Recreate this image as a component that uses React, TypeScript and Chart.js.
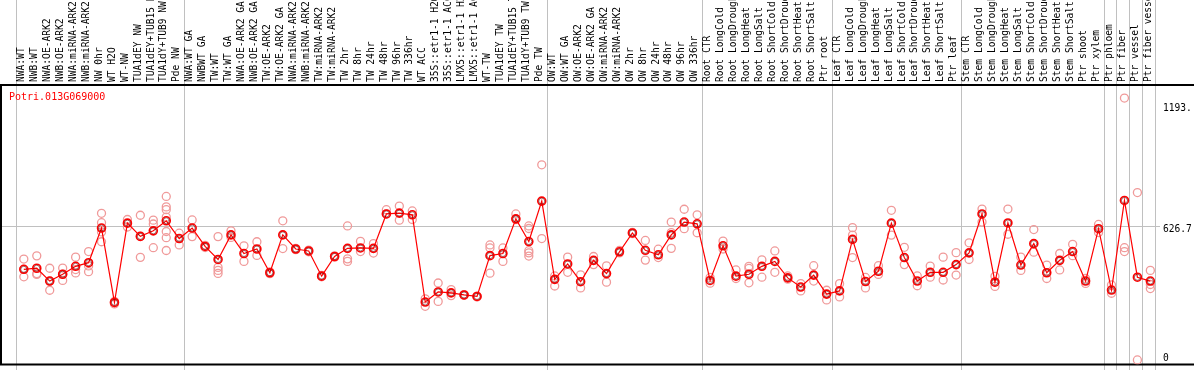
import React, { useEffect, useRef } from "react";
import { Chart, registerables } from "chart.js";

Chart.register(...registerables);

const geneTitle = "Potri.013G069000";

const categories: string[] = [
  "NWA:WT", "NWB:WT", "NWA:OE-ARK2", "NWB:OE-ARK2", "NWA:miRNA-ARK2", "NWB:miRNA-ARK2",
  "NW 0hr", "WT H2O", "WT-NW", "TUA1dEY NW", "TUA1dEY+TUB15 NW", "TUA1dY+TUB9 NW", "Pde NW",
  "NWA:WT GA", "NWBWT GA", "TW:WT", "TW:WT GA", "NWA:OE-ARK2 GA", "NWB:OE-ARK2 GA",
  "TW:OE-ARK2", "TW:OE-ARK2 GA", "NWA:miRNA-ARK2", "NWB:miRNA-ARK2", "TW:miRNA-ARK2",
  "TW:miRNA-ARK2", "TW 2hr", "TW 8hr", "TW 24hr", "TW 48hr", "TW 96hr", "TW 336hr",
  "WT ACC", "35S::etr1-1 H2O", "35S::etr1-1 ACC", "LMX5::etr1-1 H2O", "LMX5::etr1-1 ACC",
  "WT-TW", "TUA1dEY TW", "TUA1dEY+TUB15 TW", "TUA1dY+TUB9 TW", "Pde TW",
  "OW:WT", "OW:WT GA", "OW:OE-ARK2", "OW:OE-ARK2 GA", "OW:miRNA-ARK2", "OW:miRNA-ARK2",
  "OW 2hr", "OW 8hr", "OW 24hr", "OW 48hr", "OW 96hr", "OW 336hr",
  "Root CTR", "Root LongCold", "Root LongDrought", "Root LongHeat", "Root LongSalt",
  "Root ShortCold", "Root ShortDrought", "Root ShortHeat", "Root ShortSalt", "Ptr root",
  "Leaf CTR", "Leaf LongCold", "Leaf LongDrought", "Leaf LongHeat", "Leaf LongSalt",
  "Leaf ShortCold", "Leaf ShortDrought", "Leaf ShortHeat", "Leaf ShortSalt", "Ptr leaf",
  "Stem CTR", "Stem LongCold", "Stem LongDrought", "Stem LongHeat", "Stem LongSalt",
  "Stem ShortCold", "Stem ShortDrought", "Stem ShortHeat", "Stem ShortSalt",
  "Ptr shoot", "Ptr xylem", "Ptr phloem", "Ptr fiber", "Ptr vessel", "Ptr fiber vessel",
];

const meanValues: number[] = [
  424, 429, 369, 401, 438, 455, 617, 269, 640, 578, 604, 651, 568,
  617, 531, 470, 585, 498, 519, 408, 585, 519, 510, 392, 484,
  522, 524, 522, 683, 687, 679, 271, 318, 314, 304, 297,
  488, 498, 660, 554, 743,
  377, 449, 366, 466, 404, 506, 594, 513, 492, 585, 645, 637,
  372, 534, 392, 401, 438, 461, 384, 341, 397, 308,
  323, 564, 367, 415, 640, 479, 369, 410, 410, 446,
  501, 683, 364, 641, 444, 544, 408, 466, 507, 369,
  614, 327, 746, 387, 369,
];

const replicateValues: number[][] = [
  [472, 424, 389], [487, 404, 400], [429, 369, 326], [430, 401, 372], [481, 423, 407],
  [507, 440, 413], [686, 642, 599, 553], [274, 266, 262], [657, 622], [677, 578, 480],
  [654, 636, 525], [765, 716, 703, 668, 601, 572, 512], [593, 538], [655, 577], [536, 526],
  [577, 433, 419, 405], [604, 573], [534, 461], [553, 489], [412, 404], [651, 521],
  [522, 516], [514, 506], [395, 389], [487, 481], [627, 473, 461], [555, 507], [544, 500],
  [703, 683], [720, 654], [697, 657], [286, 251], [360, 274], [329, 301], [306, 302],
  [299, 295], [538, 524, 406], [524, 461], [683, 657], [627, 615, 511, 501, 486],
  [913, 568], [393, 346], [481, 410], [398, 337], [484, 446], [440, 364], [512, 501],
  [597, 591], [559, 467], [518, 479], [645, 596, 522], [705, 614], [679, 595],
  [386, 359], [556, 519], [421, 381], [438, 428, 361], [468, 387], [510, 410],
  [393, 378], [357, 323], [441, 369], [326, 281], [357, 295], [619, 584, 479],
  [386, 337], [441, 400], [700, 584], [527, 446], [393, 347], [439, 387], [481, 374],
  [502, 397], [548, 470], [706, 645], [391, 344], [706, 588], [481, 419], [610, 504],
  [444, 381], [498, 421], [541, 488], [381, 358], [634, 596], [351, 312],
  [1225, 525, 507], [783, 0], [419, 353, 334],
];

// category indices before which a group separator is drawn
const groupStarts: number[] = [0, 13, 41, 53, 63, 73, 84, 85, 86, 87, 88];

const yTickValues: number[] = [1193, 626.7, 0];
const yTickLabels: string[] = ["1193.", "626.7", "0"];
const gridValue = 626.7;

const MONO = "'DejaVu Sans Mono', 'Liberation Mono', monospace";

const decorPlugin = {
  id: "efpDecor",
  beforeDatasetsDraw(chart: any) {
    const ctx = chart.ctx as CanvasRenderingContext2D;
    const xs = chart.scales.x;
    const ys = chart.scales.y;
    const W = chart.width;
    const H = chart.height;
    const area = chart.chartArea;
    ctx.save();

    // grey separators
    ctx.strokeStyle = "#c0c0c0";
    ctx.lineWidth = 1;
    groupStarts.forEach((g) => {
      const px = Math.round(xs.getPixelForValue(g - 0.615)) + 0.5;
      ctx.beginPath();
      ctx.moveTo(px, 0);
      ctx.lineTo(px, H);
      ctx.stroke();
    });
    // horizontal grid line
    const gy = Math.round(ys.getPixelForValue(gridValue)) + 0.5;
    ctx.beginPath();
    ctx.moveTo(0, gy);
    ctx.lineTo(area.right, gy);
    ctx.stroke();

    // black frame
    ctx.strokeStyle = "#000000";
    ctx.lineWidth = 2;
    ctx.beginPath();
    ctx.moveTo(0, area.top);
    ctx.lineTo(W, area.top);
    ctx.moveTo(0, area.bottom);
    ctx.lineTo(W, area.bottom);
    ctx.moveTo(1, area.top);
    ctx.lineTo(1, area.bottom);
    ctx.stroke();

    // category labels (rotated)
    ctx.fillStyle = "#000000";
    ctx.font = `9.6px ${MONO}`;
    ctx.textAlign = "left";
    ctx.textBaseline = "middle";
    categories.forEach((lab, i) => {
      const px = xs.getPixelForValue(i) - 2.3;
      ctx.save();
      ctx.translate(px, area.top - 3);
      ctx.rotate(-Math.PI / 2);
      ctx.fillText(lab, 0, 0);
      ctx.restore();
    });

    // title
    ctx.fillStyle = "#ff0000";
    ctx.font = `10px ${MONO}`;
    ctx.textBaseline = "middle";
    ctx.fillText(geneTitle, 9, area.top + 12.5);

    // y tick labels (right side)
    ctx.fillStyle = "#000000";
    ctx.font = `9.6px ${MONO}`;
    ctx.textBaseline = "top";
    yTickValues.forEach((v, k) => {
      const py = Math.min(ys.getPixelForValue(v) - 1.5, area.bottom - 11);
      ctx.fillText(yTickLabels[k], area.right + 3, py);
    });
    ctx.restore();
  },
};

export default function App() {
  const ref = useRef<HTMLCanvasElement | null>(null);
  useEffect(() => {
    if (!ref.current) return;
    const repPoints: { x: number; y: number }[] = [];
    replicateValues.forEach((arr, i) => arr.forEach((v) => repPoints.push({ x: i, y: v })));
    const meanPoints = meanValues.map((v, i) => ({ x: i, y: v }));
    const chart = new Chart(ref.current, {
      type: "scatter",
      data: {
        datasets: [
          {
            label: "replicates",
            data: repPoints,
            showLine: false,
            pointRadius: 4,
            pointBorderWidth: 1.3,
            pointBorderColor: "#f09a9a",
            pointBackgroundColor: "rgba(0,0,0,0)",
            order: 3,
          },
          {
            label: "mean",
            data: meanPoints,
            showLine: true,
            borderColor: "#ff0000",
            borderWidth: 1.2,
            pointRadius: 4,
            pointBorderWidth: 1.6,
            pointBorderColor: "#ff0000",
            pointBackgroundColor: "rgba(0,0,0,0)",
            order: 2,
          },
          {
            label: "meanInner",
            data: meanPoints,
            showLine: false,
            pointRadius: 3,
            pointBorderWidth: 0.8,
            pointBorderColor: "rgba(90,0,0,0.7)",
            pointBackgroundColor: "rgba(0,0,0,0)",
            order: 1,
          },
        ],
      },
      options: {
        animation: false,
        responsive: false,
        maintainAspectRatio: false,
        devicePixelRatio: 1,
        layout: { padding: { left: 1, right: 34, top: 85, bottom: 1 } },
        scales: {
          x: { type: "linear", display: false, min: -1.4077, max: 87.746 },
          y: { type: "linear", display: false, min: -20.8, max: 1286.2 },
        },
        plugins: { legend: { display: false }, tooltip: { enabled: false } },
        events: [],
      },
      plugins: [decorPlugin],
    });
    return () => chart.destroy();
  }, []);
  return (
    <div style={{ position: "fixed", left: 0, top: 0, width: 1194, height: 370, background: "#fff" }}>
      <canvas ref={ref} width={1194} height={370} style={{ display: "block", width: 1194, height: 370 }} />
    </div>
  );
}
